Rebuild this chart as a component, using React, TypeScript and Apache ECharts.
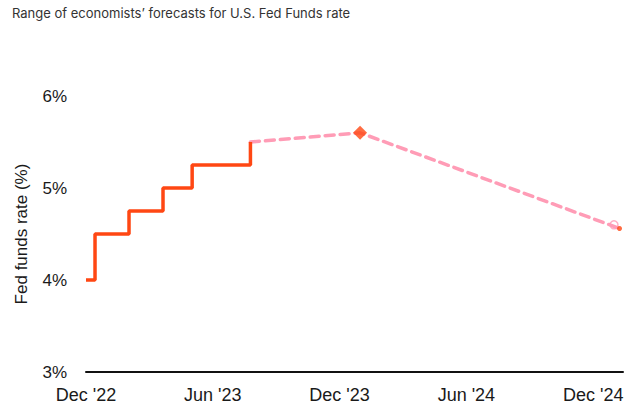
import React, { useEffect, useRef } from "react";
import * as echarts from "echarts";

const titleText = "Range of economists\u2019 forecasts for U.S. Fed Funds rate";
const yAxisName = "Fed funds rate (%)";

const axisStartDate = "2022-12-01";
const axisEndDate = "2025-01-13";
const tickLabels = ["Dec '22", "Jun '23", "Dec '23", "Jun '24", "Dec '24"];

// actual upper bound of fed funds target (step)
const actualDates = ["2022-12-01", "2022-12-14", "2023-02-01", "2023-03-22", "2023-05-03", "2023-07-26"];
const actualValues = [4.0, 4.5, 4.75, 5.0, 5.25, 5.5];

// forecast path (dashed)
const forecastDates = ["2023-07-26", "2023-12-31", "2025-01-08"];
const forecastValues = [5.5, 5.6, 4.56];

const peakDate = "2023-12-31";
const peakValue = 5.6;
const endCircleDate = "2024-12-31";
const endCircleValue = 4.6;

const DAY = 86400000;
const dayOf = (d: string) => (Date.parse(d + "T00:00:00Z") - Date.parse(axisStartDate + "T00:00:00Z")) / DAY;
const HALF_YEAR = 182.75;

export default function App() {
  const ref = useRef<HTMLDivElement>(null);
  useEffect(() => {
    document.body.style.margin = "0";
    if (!ref.current) return;
    const chart = echarts.init(ref.current, null, { renderer: "svg" });
    const orange = "#ff4713";
    const pink = "#ff9cb6";
    const font = "Liberation Sans, Arial, sans-serif";
    chart.setOption({
      animation: false,
      title: {
        text: titleText,
        left: 7,
        top: 1,
        textStyle: { fontFamily: "Inter, sans-serif", fontSize: 13, fontWeight: "normal", color: "#333" },
      },
      grid: { left: 86, right: 17, top: 96, bottom: 39, containLabel: false },
      xAxis: {
        type: "value",
        min: 0,
        max: dayOf(axisEndDate),
        interval: HALF_YEAR,
        axisLine: { show: true, lineStyle: { color: "#111", width: 2 } },
        axisTick: { show: false },
        splitLine: { show: false },
        axisLabel: {
          formatter: (v: number) => {
            const i = Math.round(v / HALF_YEAR);
            if (Math.abs(v - i * HALF_YEAR) > 0.5 || i >= tickLabels.length) return "";
            return tickLabels[i];
          },
          fontFamily: font,
          fontSize: 18,
          color: "#1a1a1a",
          margin: 14,
          showMaxLabel: true,
          showMinLabel: true,
        },
      },
      yAxis: {
        type: "value",
        min: 3,
        max: 6,
        interval: 1,
        name: yAxisName,
        nameLocation: "middle",
        nameGap: 56,
        nameTextStyle: { fontFamily: font, fontSize: 17, color: "#1a1a1a" },
        axisLine: { show: false },
        axisTick: { show: false },
        splitLine: { show: false },
        axisLabel: {
          formatter: (v: number) => v + "%",
          fontFamily: font,
          fontSize: 17,
          color: "#1a1a1a",
          margin: 19,
        },
      },
      series: [
        {
          type: "line",
          data: forecastDates.map((d, i) => [dayOf(d), forecastValues[i]]),
          lineStyle: { color: pink, width: 3.5, type: [9, 6], cap: "round" },
          showSymbol: false,
          symbol: "none",
          z: 2,
        },
        {
          type: "line",
          step: "end",
          data: actualDates
            .map((d, i) => [dayOf(d), actualValues[i]])
            .concat([[dayOf(forecastDates[0]), actualValues[actualValues.length - 1]]]),
          lineStyle: { color: orange, width: 3.5 },
          symbol: "none",
          z: 3,
        },
        {
          type: "scatter",
          data: [[dayOf(peakDate), peakValue]],
          symbol: "diamond",
          symbolSize: [14, 14],
          itemStyle: { color: orange },
          z: 4,
        },
        {
          type: "scatter",
          data: [[dayOf(endCircleDate), endCircleValue]],
          symbol: "circle",
          symbolSize: 8,
          itemStyle: { color: "rgba(255,255,255,0)", borderColor: pink, borderWidth: 1.5 },
          z: 4,
        },
        {
          type: "scatter",
          data: [[dayOf(forecastDates[2]), forecastValues[2]]],
          symbol: "circle",
          symbolSize: 5,
          itemStyle: { color: orange },
          z: 4,
        },
      ],
    });
    return () => chart.dispose();
  }, []);
  return <div ref={ref} style={{ width: 640, height: 411 }} />;
}
